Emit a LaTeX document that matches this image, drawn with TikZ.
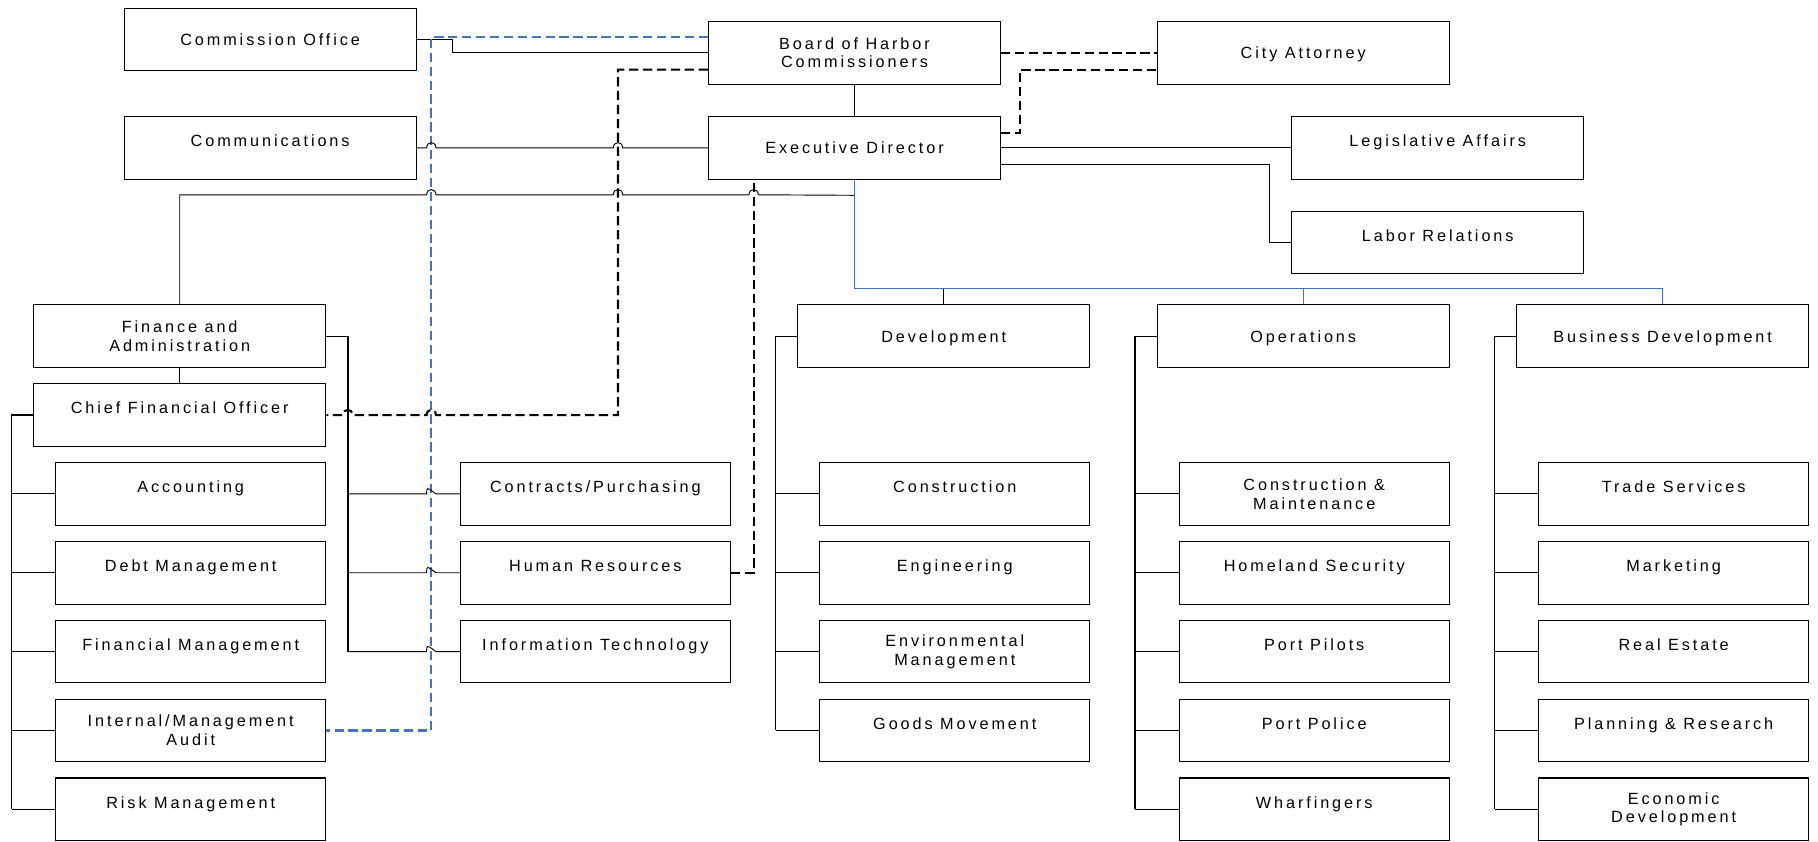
\documentclass[tikz,border=0pt]{standalone}
\usepackage{fontspec}
\setmainfont{Liberation Sans}[LetterSpace=18]
\usetikzlibrary{calc}
\definecolor{bl}{RGB}{68,114,196}
\begin{document}
\begin{tikzpicture}[x=1pt,y=-1pt,
  bx/.style={draw=black, line width=0.9pt, inner sep=0pt, minimum height=54pt, font=\fontsize{14}{16}\selectfont, align=center},
  big/.style={bx, minimum width=252pt},
  sub/.style={bx, minimum width=233pt},
  toptxt/.style={text height=10pt, text depth=12pt},
  midtxt/.style={text height=12pt, text depth=2pt},
  ln/.style={line width=0.8pt},
  trunk/.style={line width=1.2pt},
  bdash/.style={line width=1.8pt, dash pattern=on 8pt off 4pt},
  bluedash/.style={line width=1.8pt, draw=bl, dash pattern=on 8pt off 4pt},
  blueln/.style={line width=0.9pt, draw=bl}]
\useasboundingbox[fill=white] (0,0) rectangle (1568,726);
% top
\node[big,midtxt] (co) at (233,34) {Commission Office};
\node[big] (board) at (737,45.5) {Board of Harbor\\Commissioners};
\node[big,midtxt] (ca) at (1124,45.5) {City Attorney};
\node[big,toptxt] (comm) at (233,127.5) {Communications};
\node[big,midtxt] (ed) at (737,127.5) {Executive Director};
\node[big,toptxt] (leg) at (1240,127.5) {Legislative Affairs};
\node[big,toptxt] (lab) at (1240,209) {Labor Relations};
% finance
\node[big] (fin) at (155,290) {Finance and\\Administration};
\node[big,toptxt] (cfo) at (155,358) {Chief Financial Officer};
\node[sub,toptxt] (acc) at (164.5,426) {Accounting};
\node[sub,toptxt] (debt) at (164.5,494) {Debt Management};
\node[sub,toptxt] (finm) at (164.5,562) {Financial Management};
\node[sub] (audit) at (164.5,630) {Internal/Management\\Audit};
\node[sub,toptxt] (risk) at (164.5,698) {Risk Management};
\node[sub,toptxt] (contr) at (513.5,426) {Contracts/Purchasing};
\node[sub,toptxt] (hr) at (513.5,494) {Human Resources};
\node[sub,toptxt] (it) at (513.5,562) {Information Technology};
% development
\node[big,midtxt] (dev) at (814,290) {Development};
\node[sub,toptxt] (cons) at (823.5,426) {Construction};
\node[sub,toptxt] (eng) at (823.5,494) {Engineering};
\node[sub] (env) at (823.5,562) {Environmental\\Management};
\node[sub,toptxt] (goods) at (823.5,630) {Goods Movement};
% operations
\node[big,midtxt] (ops) at (1124,290) {Operations};
\node[sub] (cm) at (1133.5,426) {Construction \&\\Maintenance};
\node[sub,toptxt] (hs) at (1133.5,494) {Homeland Security};
\node[sub,toptxt] (pp) at (1133.5,562) {Port Pilots};
\node[sub,toptxt] (pol) at (1133.5,630) {Port Police};
\node[sub,toptxt] (wh) at (1133.5,698) {Wharfingers};
% business development
\node[big,midtxt] (bd) at (1434,290) {Business Development};
\node[sub,toptxt] (ts) at (1443.5,426) {Trade Services};
\node[sub,toptxt] (mk) at (1443.5,494) {Marketing};
\node[sub,toptxt] (re) at (1443.5,562) {Real Estate};
\node[sub,toptxt] (pr) at (1443.5,630) {Planning \& Research};
\node[sub] (econ) at (1443.5,698) {Economic\\Development};
% trunk x positions
\coordinate (tA) at (10,0);
\coordinate (tB) at (300,0);
\coordinate (tC) at (669,0);
\coordinate (tD) at (979,0);
\coordinate (tE) at (1289,0);
% connectors
\draw[ln] (co.east) -- (390,34) |- (board.west);
\draw[bluedash] (board.west) ++(0,-13.5) -- (372,32) -- (372,630) -- (audit.east);
\draw[ln] (board.south) -- (ed.north);
\draw[bdash] (board.west) ++(0,14.5) -- (533,60) -- (533,358) -- (376,358)
  .. controls (376,352) and (368,352) .. (368,358) -- (304,358)
  .. controls (304,352) and (296,352) .. (296,358) -- (cfo.east);
\draw[bdash] (board.east) -- (ca.west);
\draw[bdash] (ed.east) ++(0,-13) -- (880,114.5) -- (880,60) -- ($(ca.west)+(0,14.5)$);
\draw[ln] (comm.east) -- (368,127.5) .. controls (368,121.5) and (376,121.5) .. (376,127.5)
  -- (529,127.5) .. controls (529,121.5) and (537,121.5) .. (537,127.5) -- (ed.west);
\draw[ln] (ed.east) -- (leg.west);
\draw[ln] (ed.east) ++(0,14) -- (1095,141.5) |- (lab.west);
\draw[ln] (ed.south) ++(0,13.5) -- (654,168) .. controls (654,162) and (646,162) .. (646,168)
  -- (537,168) .. controls (537,162) and (529,162) .. (529,168)
  -- (376,168) .. controls (376,162) and (368,162) .. (368,168)
  -- (155,168) -- (fin.north);
\draw[blueln] (ed.south) -- (737,249) -| (bd.north);
\draw[blueln] (ops.north) -- (1124,249);
\draw[ln] (dev.north) -- (814,249);
\draw[bdash] (hr.east) -- (650,494) -- (650,154.5);
% finance branch
\draw[ln] (fin.south) -- (cfo.north);
\draw[trunk] (fin.east) -| (tB |- it.west);
\foreach \n in {contr,hr,it}
  \draw[ln] (tB |- \n.west) -- ++(68,0) .. controls ++(0,-6) and ++(-8,-6) .. ++(8,0) -- (\n.west);
\draw[trunk] (cfo.west) -| (tA |- risk.west);
\foreach \n in {acc,debt,finm,audit,risk}
  \draw[ln] (tA |- \n.west) -- (\n.west);
\draw[trunk] (dev.west) -| (tC |- goods.west);
\foreach \n in {cons,eng,env,goods}
  \draw[ln] (tC |- \n.west) -- (\n.west);
\draw[trunk] (ops.west) -| (tD |- wh.west);
\foreach \n in {cm,hs,pp,pol,wh}
  \draw[ln] (tD |- \n.west) -- (\n.west);
\draw[trunk] (bd.west) -| (tE |- econ.west);
\foreach \n in {ts,mk,re,pr,econ}
  \draw[ln] (tE |- \n.west) -- (\n.west);
\end{tikzpicture}
\end{document}
